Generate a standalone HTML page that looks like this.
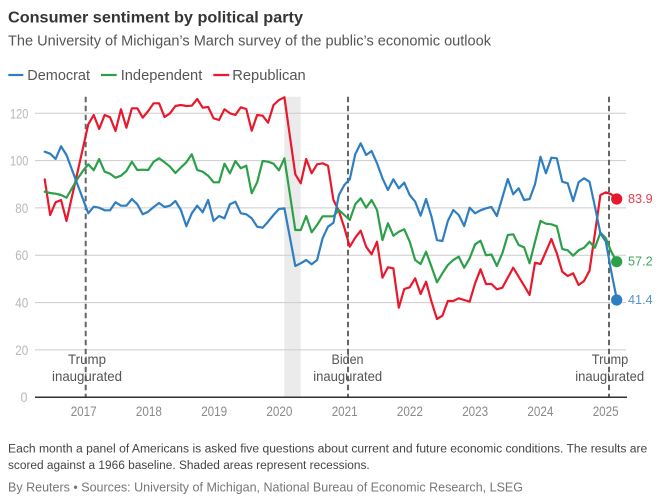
<!DOCTYPE html>
<html>
<head>
<meta charset="utf-8">
<style>
  html,body{margin:0;padding:0;background:#fff;}
  svg{display:block;}
  text{font-family:"Liberation Sans", sans-serif;}
</style>
</head>
<body>
<svg width="668" height="504" viewBox="0 0 668 504" xmlns="http://www.w3.org/2000/svg">
  <rect x="0" y="0" width="668" height="504" fill="#fff"/>

  <!-- Title / subtitle -->
  <text x="8" y="22.7" font-size="16" font-weight="bold" fill="#353535" textLength="295" lengthAdjust="spacingAndGlyphs">Consumer sentiment by political party</text>
  <text x="8" y="45.6" font-size="15" fill="#555" textLength="483" lengthAdjust="spacingAndGlyphs">The University of Michigan’s March survey of the public’s economic outlook</text>

  <!-- Legend -->
  <line x1="8.3" y1="75" x2="23.3" y2="75" stroke="#2f7ec1" stroke-width="2.2"/>
  <text x="27.3" y="80" font-size="15" fill="#555" textLength="62.7" lengthAdjust="spacingAndGlyphs">Democrat</text>
  <line x1="101" y1="75" x2="116.7" y2="75" stroke="#2ca048" stroke-width="2.2"/>
  <text x="120.7" y="80" font-size="15" fill="#555" textLength="81.6" lengthAdjust="spacingAndGlyphs">Independent</text>
  <line x1="213.3" y1="75" x2="229.3" y2="75" stroke="#e8192c" stroke-width="2.2"/>
  <text x="232.3" y="80" font-size="15" fill="#555" textLength="73.4" lengthAdjust="spacingAndGlyphs">Republican</text>

  <!-- Recession shading -->
  <rect x="284.3" y="96.7" width="16.4" height="300.6" fill="#ebebeb"/>

  <!-- Gridlines -->
  <g stroke="#cccccc" stroke-width="1">
    <line x1="35" y1="113.3" x2="626" y2="113.3"/>
    <line x1="35" y1="160.6" x2="626" y2="160.6"/>
    <line x1="35" y1="207.9" x2="626" y2="207.9"/>
    <line x1="35" y1="255.2" x2="626" y2="255.2"/>
    <line x1="35" y1="302.6" x2="626" y2="302.6"/>
    <line x1="35" y1="349.9" x2="626" y2="349.9"/>
  </g>

  <!-- Y labels -->
  <g font-size="14" fill="#b8b8b8" text-anchor="end">
    <text x="28.3" y="118.3" textLength="18.3" lengthAdjust="spacingAndGlyphs">120</text>
    <text x="28.3" y="165.6" textLength="18.3" lengthAdjust="spacingAndGlyphs">100</text>
    <text x="28.3" y="212.9" textLength="13" lengthAdjust="spacingAndGlyphs">80</text>
    <text x="28.3" y="260.2" textLength="13" lengthAdjust="spacingAndGlyphs">60</text>
    <text x="28.3" y="307.6" textLength="13" lengthAdjust="spacingAndGlyphs">40</text>
    <text x="28.3" y="354.9" textLength="13" lengthAdjust="spacingAndGlyphs">20</text>
    <text x="27.5" y="402.2" textLength="7" lengthAdjust="spacingAndGlyphs">0</text>
  </g>

  <!-- Dashed inauguration lines -->
  <g stroke="#666" stroke-width="2" stroke-dasharray="5.5,3.5">
    <line x1="85.7" y1="96.7" x2="85.7" y2="397"/>
    <line x1="348" y1="96.7" x2="348" y2="397"/>
    <line x1="609" y1="96.7" x2="609" y2="397"/>
  </g>

  <!-- Annotations -->
  <g font-size="14" fill="#555" text-anchor="middle">
    <text x="87" y="364" textLength="38" lengthAdjust="spacingAndGlyphs">Trump</text>
    <text x="87" y="381" textLength="70" lengthAdjust="spacingAndGlyphs">inaugurated</text>
    <text x="347.5" y="364" textLength="32" lengthAdjust="spacingAndGlyphs">Biden</text>
    <text x="347.7" y="381" textLength="69" lengthAdjust="spacingAndGlyphs">inaugurated</text>
    <text x="610" y="364" textLength="36.5" lengthAdjust="spacingAndGlyphs">Trump</text>
    <text x="609.7" y="381" textLength="69" lengthAdjust="spacingAndGlyphs">inaugurated</text>
  </g>

  <!-- Axis baseline -->
  <line x1="35" y1="397.3" x2="627" y2="397.3" stroke="#333" stroke-width="1.5"/>

  <!-- X labels -->
  <g font-size="14" fill="#8a8a8a" text-anchor="middle">
    <text x="83.7" y="416" textLength="26" lengthAdjust="spacingAndGlyphs">2017</text>
    <text x="148.9" y="416" textLength="26" lengthAdjust="spacingAndGlyphs">2018</text>
    <text x="214.2" y="416" textLength="26" lengthAdjust="spacingAndGlyphs">2019</text>
    <text x="279.4" y="416" textLength="26" lengthAdjust="spacingAndGlyphs">2020</text>
    <text x="344.7" y="416" textLength="26" lengthAdjust="spacingAndGlyphs">2021</text>
    <text x="409.9" y="416" textLength="26" lengthAdjust="spacingAndGlyphs">2022</text>
    <text x="475.2" y="416" textLength="26" lengthAdjust="spacingAndGlyphs">2023</text>
    <text x="540.4" y="416" textLength="26" lengthAdjust="spacingAndGlyphs">2024</text>
    <text x="605.7" y="416" textLength="26" lengthAdjust="spacingAndGlyphs">2025</text>
  </g>

  <!-- Series -->
  <g transform="translate(44.7 0) scale(5.448 1)" fill="none" stroke-linejoin="round" stroke-linecap="round">
    <polyline vector-effect="non-scaling-stroke" stroke="#e8192c" stroke-width="2.2" points="0,179.3 1,215 2,202.3 3,200 4,221 5,196.8 6,172.7 7,148.5 8,124.3 9,115 10,129 11,115 12,117.3 13,131 14,109.3 15,127.7 16,108.3 17,108.3 18,117.7 19,111 20,103.3 21,103.3 22,117 23,113.3 24,106 25,105 26,106 27,105.7 28,99 29,107.7 30,107 31,118.3 32,120 33,109.3 34,113.3 35,115 36,107.3 37,109 38,130.7 39,115 40,115.7 41,122.7 42,105 43,100 44,97.3 45,136 46,174.3 47,183.3 48,159 49,173.3 50,164.3 51,163.3 52,165.7 53,200 54,211 55,227.7 56,246.7 57,237.7 58,230.7 59,246.7 60,254.3 61,241.7 62,277.7 63,267.3 64,268.3 65,307.7 66,289 67,287.3 68,278.3 69,294 70,281.7 71,301.7 72,319 73,315.7 74,301 75,301 76,298.3 77,300 78,301.7 79,283.3 80,269.3 81,284 82,284 83,289.3 84,287.7 85,277.7 86,267.7 87,276.7 88,285.7 89,295 90,262.7 91,264 92,251.7 93,239 94,253.3 95,271.7 96,276 97,273.3 98,285 99,281 100,270.7 101,233.3 102,195 103,192.3 104,194.3 105,199"/>
    <polyline vector-effect="non-scaling-stroke" stroke="#2ca048" stroke-width="2.2" points="0,191.7 1,193 2,193.7 3,195 4,197.7 5,188.3 6,179 7,171 8,164.3 9,170.3 10,159 11,171.7 12,173.7 13,177.7 14,175.7 15,171 16,161.7 17,170 18,169.7 19,170 20,161.7 21,158.3 22,162.3 23,166.7 24,173 25,167.5 26,162.3 27,154.3 28,170 29,171.7 30,175.7 31,182.3 32,182.3 33,163.7 34,173.3 35,161 36,168.3 37,165.7 38,193.3 39,182.3 40,161 41,161.7 42,163.7 43,170.3 44,158.3 45,194 46,230 47,230 48,216 49,232.3 50,225 51,216.3 52,216.3 53,216.3 54,210 55,215 56,220 57,204.3 58,198.3 59,207.7 60,200 61,210 62,240 63,223.3 64,235.7 65,231.7 66,229.3 67,241.7 68,260 69,264 70,251.7 71,266.7 72,282.3 73,273.3 74,265 75,260 76,256.7 77,267.7 78,258.3 79,244.3 80,240.7 81,255.3 82,254.5 83,266 84,253.3 85,235 86,234.3 87,245 88,247.3 89,263.3 90,241.7 91,221 92,223.7 93,224.3 94,226.3 95,249 96,250.3 97,255.7 98,250.3 99,247.7 100,241.7 101,247.7 102,232.7 103,238.3 104,251.7 105,261.7"/>
    <polyline vector-effect="non-scaling-stroke" stroke="#2f7ec1" stroke-width="2.2" points="0,151.7 1,153.7 2,159 3,146.3 4,155 5,169.6 6,184.2 7,198.7 8,213.3 9,206.7 10,207.7 11,210.3 12,210.3 13,202.3 14,205.7 15,205.7 16,199 17,204.3 18,214.3 19,211.7 20,207 21,203 22,207 23,205.7 24,201 25,210 26,226.2 27,213.3 28,205.7 29,212.3 30,200 31,221 32,216 33,218.3 34,204.3 35,201.7 36,213.3 37,214.3 38,218.3 39,226.7 40,227.7 41,221.7 42,215 43,209 44,208.3 45,237 46,266 47,263.3 48,260 49,264.3 50,260 51,238.3 52,226.7 53,222.8 54,195 55,185 56,179.3 57,154.3 58,143.3 59,155 60,151 61,163.3 62,178.3 63,190 64,179.3 65,188.3 66,182.7 67,195 68,201.7 69,215.7 70,199 71,216.7 72,240 73,241 74,221 75,210 76,215 77,226 78,207.7 79,213.3 80,210.3 81,208.3 82,207 83,216 84,197.7 85,179 86,194.3 87,188.3 88,200 89,199 90,184.3 91,156.7 92,173.3 93,157.7 94,158.3 95,181.7 96,183.3 97,201 98,182.3 99,178.3 100,181.7 101,206.7 102,233.3 103,241.7 104,271.7 105,299"/>
  </g>

  <!-- End dots & labels -->
  <circle cx="616.7" cy="199" r="5.6" fill="#e8192c"/>
  <circle cx="616.7" cy="261.7" r="5.6" fill="#2ca048"/>
  <circle cx="616.7" cy="300" r="5.6" fill="#2f7ec1"/>
  <g font-size="12.5">
    <text x="628" y="202.8" fill="#ee3b4b" textLength="24.7" lengthAdjust="spacingAndGlyphs">83.9</text>
    <text x="628" y="265.5" fill="#3fa75d" textLength="24.7" lengthAdjust="spacingAndGlyphs">57.2</text>
    <text x="628" y="303.8" fill="#5593cf" textLength="24.7" lengthAdjust="spacingAndGlyphs">41.4</text>
  </g>

  <!-- Footer -->
  <text x="8" y="452.7" font-size="11.5" fill="#444" textLength="639.3" lengthAdjust="spacingAndGlyphs">Each month a panel of Americans is asked five questions about current and future economic conditions. The results are</text>
  <text x="8" y="469" font-size="11.5" fill="#444" textLength="361.7" lengthAdjust="spacingAndGlyphs">scored against a 1966 baseline. Shaded areas represent recessions.</text>
  <text x="8" y="491.7" font-size="12.5" fill="#777" textLength="515" lengthAdjust="spacingAndGlyphs">By Reuters • Sources: University of Michigan, National Bureau of Economic Research, LSEG</text>
</svg>
</body>
</html>
